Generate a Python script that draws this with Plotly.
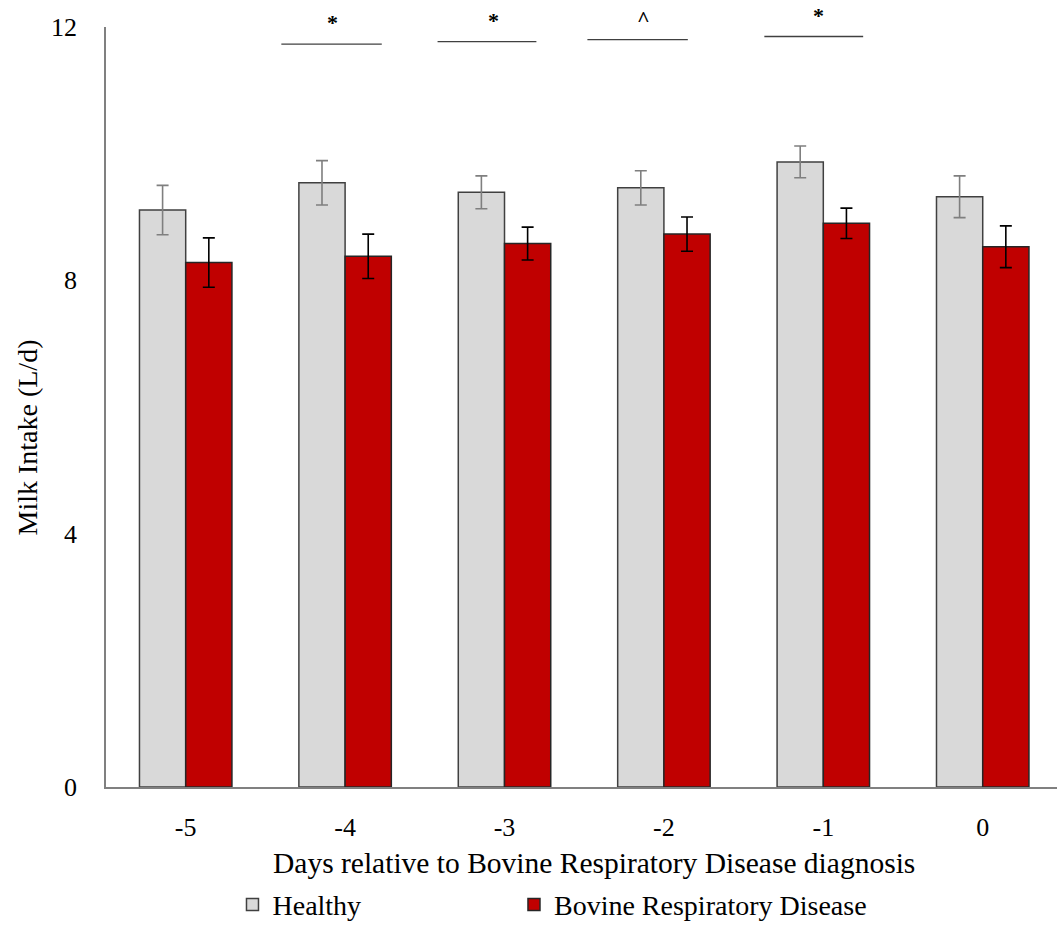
import plotly.graph_objects as go

days = ["-5", "-4", "-3", "-2", "-1", "0"]
healthy = [9.11, 9.54, 9.39, 9.46, 9.87, 9.32]
healthy_se = [0.39, 0.35, 0.26, 0.27, 0.25, 0.33]
brd = [8.28, 8.38, 8.58, 8.73, 8.90, 8.53]
brd_se = [0.39, 0.35, 0.26, 0.27, 0.24, 0.33]

# significance markers (bracket start/end in category units, height, label)
sig_x0 = [0.60, 1.58, 2.52, 3.63]
sig_x1 = [1.23, 2.20, 3.15, 4.25]
sig_y = [11.73, 11.77, 11.80, 11.85]
sig_label = ["*", "*", "^", "*"]
sig_label_x = [0.92, 1.93, 2.87, 3.97]

x_title = "Days relative to Bovine Respiratory Disease diagnosis"
y_title = "Milk Intake (L/d)"

FONT = "Liberation Serif"

fig = go.Figure()
fig.add_trace(go.Bar(
    x=days, y=healthy, name="Healthy", legend="legend",
    marker=dict(color="#D9D9D9", line=dict(color="#404040", width=1.5)),
    error_y=dict(type="data", array=healthy_se, color="#7F7F7F", thickness=1.6, width=6),
))
fig.add_trace(go.Bar(
    x=days, y=brd, name="Bovine Respiratory Disease", legend="legend2",
    marker=dict(color="#C00000", line=dict(color="#262626", width=1.5)),
    error_y=dict(type="data", array=brd_se, color="#000000", thickness=1.6, width=6),
))

for x0, x1, yy in zip(sig_x0, sig_x1, sig_y):
    fig.add_shape(type="line", xref="x", yref="y", x0=x0, x1=x1, y0=yy, y1=yy,
                  line=dict(color="#404040", width=1.3))
for lx, ly, t in zip(sig_label_x, sig_y, sig_label):
    fig.add_annotation(x=lx, y=ly, xref="x", yref="y", text="<b>" + t + "</b>", showarrow=False,
                       yanchor="bottom", yshift=7,
                       font=dict(family=FONT, size=22, color="black"))

# axis titles as annotations to match the original placement
fig.add_annotation(x=0.513, y=-0.0996, xref="paper", yref="paper", text=x_title,
                   showarrow=False, xanchor="center", yanchor="middle",
                   font=dict(family=FONT, size=29.5, color="black"))
fig.add_annotation(x=-0.083, y=0.46, xref="paper", yref="paper", text=y_title,
                   showarrow=False, xanchor="center", yanchor="middle", textangle=-90,
                   font=dict(family=FONT, size=28, color="black"))

leg_common = dict(orientation="h", y=-0.155, xanchor="left", yanchor="middle",
                  font=dict(family=FONT, size=28), itemwidth=30, bgcolor="rgba(0,0,0,0)")

fig.update_layout(
    width=1057, height=930,
    margin=dict(l=106, r=0, t=27, b=140),
    paper_bgcolor="white", plot_bgcolor="white",
    barmode="group", bargap=0.42, bargroupgap=0,
    font=dict(family=FONT, size=26, color="black"),
    showlegend=True,
    legend=dict(x=0.133, **leg_common),
    legend2=dict(x=0.429, **leg_common),
)
fig.update_xaxes(
    type="category", range=[-0.5, 5.466], automargin=False,
    showline=True, linecolor="#808080", linewidth=1.5,
    showgrid=False, ticks="", ticklabelstandoff=16,
    tickfont=dict(family=FONT, size=26),
)
fig.update_yaxes(
    range=[0, 12], tickvals=[0, 4, 8, 12], automargin=False,
    showline=True, linecolor="#808080", linewidth=1.5,
    showgrid=False, ticks="", ticklabelstandoff=22, zeroline=False,
    tickfont=dict(family=FONT, size=26),
)

fig.write_html("out.html", config={"displayModeBar": False},
               post_script="document.body.style.margin='0';document.body.style.overflow='hidden';")
